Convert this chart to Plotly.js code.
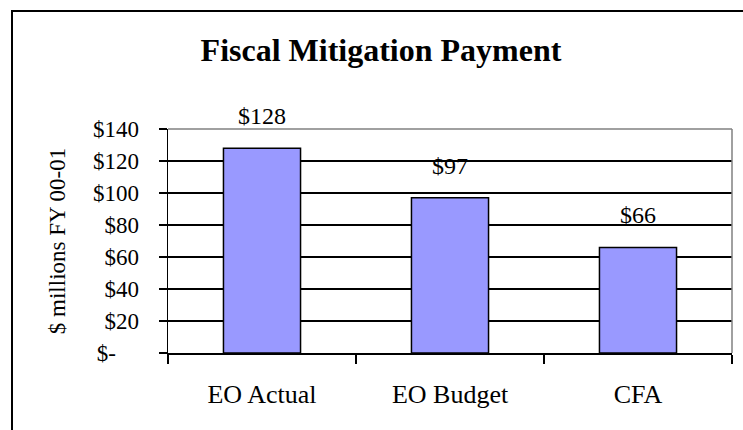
<!DOCTYPE html>
<html>
<head>
<meta charset="utf-8">
<script src="https://cdn.plot.ly/plotly-3.0.1.min.js"></script>
<style>
html,body{margin:0;padding:0;background:#fff;overflow:hidden;}
#wrap{position:relative;width:743px;height:430px;}
#chart{position:absolute;left:0;top:0;width:743px;height:430px;}
#frame{position:absolute;left:11px;top:10px;width:800px;height:500px;border-left:2px solid #000;border-top:2px solid #000;pointer-events:none;}
</style>
</head>
<body>
<div id="wrap"><div id="chart"></div><div id="frame"></div></div>
<script>
const categories = ["EO Actual", "EO Budget", "CFA"];
const values = [128, 97, 66];
const valueLabels = ["$128", "$97", "$66"];
const yTickVals = [0, 20, 40, 60, 80, 100, 120, 140];
const yTickText = ["$-\u00a0\u00a0\u00a0\u00a0", "$20", "$40", "$60", "$80", "$100", "$120", "$140"];
const chartTitle = "Fiscal Mitigation Payment";
const yTitle = "$ millions FY 00-01";

const FONT = "Liberation Serif, Times New Roman, serif";
const xPos = categories.map((c, i) => i);

const trace = {
  type: "bar",
  x: xPos,
  y: values,
  width: 0.41,
  marker: { color: "#9999FF", line: { color: "#000", width: 1.5 } },
  hoverinfo: "skip"
};

const annotations = values.map((v, i) => ({
  x: xPos[i], y: v, xref: "x", yref: "y",
  text: valueLabels[i], showarrow: false,
  yanchor: "bottom", yshift: 17,
  font: { family: FONT, size: 24, color: "#000" }
}));

const layout = {
  width: 743, height: 430,
  margin: { l: 168, r: 11, t: 129, b: 77 },
  paper_bgcolor: "#fff", plot_bgcolor: "#fff",
  showlegend: false,
  title: {
    text: "<b>" + chartTitle + "</b>",
    font: { family: FONT, size: 32, color: "#000" },
    x: 381 / 743, xanchor: "center", xref: "container",
    y: 1 - 50 / 430, yanchor: "middle", yref: "container"
  },
  xaxis: {
    range: [-0.5, 2.5],
    tickmode: "array", tickvals: xPos, ticktext: categories,
    ticks: "", showgrid: false, zeroline: false,
    showline: true, linecolor: "#000", linewidth: 1.5,
    ticklabelstandoff: 17,
    tickfont: { family: FONT, size: 26, color: "#000" },
    minor: { tickmode: "array", tickvals: [-0.5, 0.5, 1.5, 2.5], ticks: "outside", ticklen: 9, tickwidth: 1.5, tickcolor: "#000", showgrid: false },
    fixedrange: true
  },
  yaxis: {
    range: [0, 140],
    tickmode: "array", tickvals: yTickVals, ticktext: yTickText,
    ticks: "outside", ticklen: 8, tickwidth: 1.5, tickcolor: "#000",
    showgrid: true, gridcolor: "#000", gridwidth: 1.3,
    zeroline: false,
    showline: true, linecolor: "#000", linewidth: 1.5,
    ticklabelstandoff: 15,
    tickfont: { family: FONT, size: 23, color: "#000" },
    title: { text: yTitle, font: { family: FONT, size: 23, color: "#000" }, standoff: 21 },
    fixedrange: true
  },
  shapes: [
    { type: "line", xref: "paper", yref: "paper", x0: 0, x1: 1, y0: 1, y1: 1, line: { color: "#808080", width: 1.5 } },
    { type: "line", xref: "paper", yref: "paper", x0: 1, x1: 1, y0: 0, y1: 1, line: { color: "#808080", width: 1.5 } }
  ],
  annotations: annotations
};

Plotly.newPlot("chart", [trace], layout, { staticPlot: true, displayModeBar: false });
</script>
</body>
</html>
